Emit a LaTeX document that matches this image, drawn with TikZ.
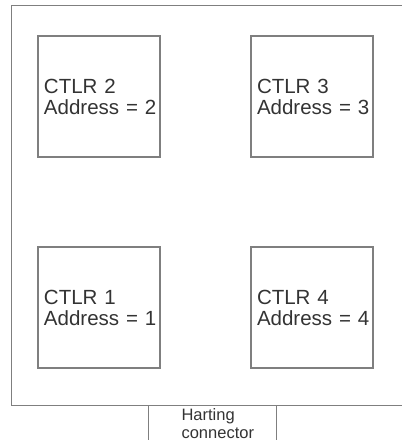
\documentclass[tikz,border=0pt]{standalone}
\usepackage{fontspec}
\setmainfont{Liberation Sans}
\usepackage{tikz}
\usetikzlibrary{positioning}
\definecolor{linegray}{HTML}{7F7F7F}
\definecolor{txtgray}{HTML}{333333}
\tikzset{
  frame/.style={draw=linegray,line width=1.2pt},
  ctlr/.style={frame,rectangle,align=left,text width=116pt,inner xsep=3pt,
    minimum height=121pt,text=txtgray,font=\fontsize{20.5}{21}\selectfont},
  hbox/.style={frame,rectangle,minimum width=128pt,minimum height=40pt,inner sep=0pt},
  htxt/.style={align=left,text=txtgray,inner sep=0pt,font=\fontsize{16.5}{18}\selectfont},
}
\begin{document}
\begin{tikzpicture}[x=1pt,y=-1pt]
  \useasboundingbox (0,0) rectangle (402,440);
  \clip (0,0) rectangle (402,440);
  % board outline (right edge runs off the picture)
  \node[frame,rectangle,minimum width=410pt,minimum height=400pt,anchor=north west,
    inner sep=0pt] (board) at (11,5) {};
  % controllers
  \foreach \n/\x/\y in {2/99/96.5, 3/312/96.5, 1/99/307.5, 4/312/307.5}{
    \node[ctlr] (ctlr\n) at (\x,\y) {\hspace*{3pt}CTLR \n\\\hspace*{3pt}Address = \n};
  }
  % connector under the board
  \node[hbox,anchor=north west] (harting) at (147.7,405) {};
  \node[htxt] (hartingtxt) at ([xshift=5.5pt,yshift=2pt]harting.center) {Harting\\connector};
\end{tikzpicture}
\end{document}
